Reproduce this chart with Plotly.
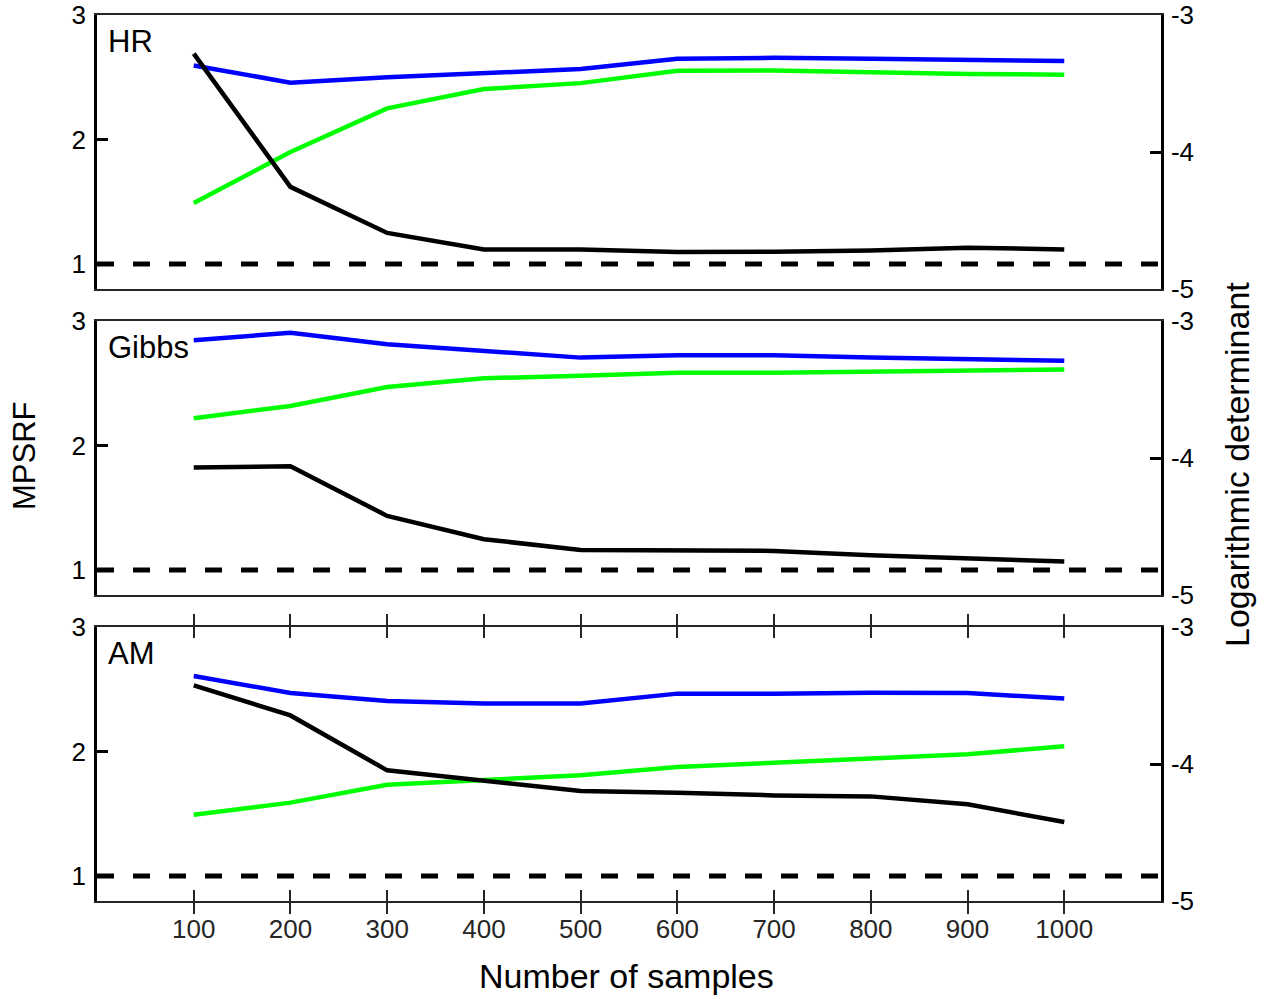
import plotly.graph_objects as go

samples = [100, 200, 300, 400, 500, 600, 700, 800, 900, 1000]
panel_names = ["HR", "Gibbs", "AM"]

blue_hr = [2.595, 2.457, 2.50, 2.534, 2.566, 2.648, 2.656, 2.648, 2.64, 2.63]
green_hr = [1.49, 1.90, 2.25, 2.405, 2.453, 2.553, 2.555, 2.54, 2.527, 2.52]
black_hr = [2.69, 1.62, 1.25, 1.118, 1.118, 1.097, 1.10, 1.11, 1.132, 1.118]

blue_gibbs = [2.845, 2.906, 2.813, 2.759, 2.706, 2.725, 2.725, 2.706, 2.69, 2.68]
green_gibbs = [2.22, 2.318, 2.47, 2.54, 2.56, 2.585, 2.585, 2.593, 2.604, 2.61]
black_gibbs = [1.823, 1.834, 1.435, 1.248, 1.162, 1.154, 1.154, 1.12, 1.095, 1.068]

blue_am = [2.607, 2.47, 2.406, 2.385, 2.385, 2.465, 2.465, 2.473, 2.47, 2.425]
green_am = [1.493, 1.59, 1.734, 1.769, 1.809, 1.876, 1.908, 1.937, 1.978, 2.042]
black_am = [2.532, 2.29, 1.849, 1.763, 1.683, 1.67, 1.648, 1.64, 1.576, 1.434]

reference_level = 1
left_ticks = [1, 2, 3]
right_ticks = [-5, -4, -3]
right_tick_labels = ["-5", "-4", "-3"]
x_ticks = [100, 200, 300, 400, 500, 600, 700, 800, 900, 1000]

panels = [
    (blue_hr, green_hr, black_hr),
    (blue_gibbs, green_gibbs, black_gibbs),
    (blue_am, green_am, black_am),
]

W, H = 1266, 999
ml, mr, mt, mb = 97, 105, 15, 98
plot_h = H - mt - mb
plot_w = W - ml - mr
spans = [(15, 289), (321, 595), (627, 901)]
domains = [[(H - mb - b) / plot_h, (H - mb - t) / plot_h] for t, b in spans]

fig = go.Figure()
FONT = "Liberation Sans, Arial, Helvetica, sans-serif"
LW = 4.5
TICKFONT = 26

layout = dict(
    width=W, height=H,
    margin=dict(l=ml, r=mr, t=mt, b=mb, autoexpand=False),
    paper_bgcolor="white", plot_bgcolor="white",
    showlegend=False,
    font=dict(family=FONT, size=24, color="black"),
)

shapes = []
annotations = []
for i, (blue, green, black) in enumerate(panels):
    n = i + 1
    xa = "x" if n == 1 else f"x{n}"
    ya = f"y{2*n-1}" if n > 1 else "y"
    yb = f"y{2*n}"
    xk = "xaxis" if n == 1 else f"xaxis{n}"
    yk = "yaxis" if n == 1 else f"yaxis{2*n-1}"
    yk2 = f"yaxis{2*n}"
    for vals, col in ((blue, "#0000ff"), (green, "#00ff00"), (black, "#000000")):
        fig.add_trace(go.Scatter(x=samples, y=vals, xaxis=xa, yaxis=ya, mode="lines",
                                 line=dict(color=col, width=LW), hoverinfo="skip"))
    fig.add_trace(go.Scatter(x=[], y=[], xaxis=xa, yaxis=yb, mode="lines", hoverinfo="skip"))
    last = (n == 3)
    layout[xk] = dict(
        domain=[0, 1], anchor=ya, range=[0, 1100],
        showline=True, linecolor="#262626", linewidth=2,
        mirror="allticks" if last else True,
        ticks="inside" if last else "", ticklen=11, tickwidth=2, tickcolor="#262626",
        tickvals=x_ticks if last else [], showticklabels=last,
        tickfont=dict(size=TICKFONT, color="#262626", family=FONT),
        showgrid=False, zeroline=False, fixedrange=True,
        ticklabelstandoff=4, automargin=False,
    )
    if n > 1:
        layout[xk]["matches"] = "x"
    layout[yk] = dict(
        domain=domains[i], anchor=xa, range=[0.8, 3],
        showline=True, linecolor="black", linewidth=2.5,
        ticks="inside", ticklen=11, tickwidth=2.5, tickcolor="black",
        tickvals=left_ticks, tickfont=dict(size=TICKFONT, color="black", family=FONT),
        showgrid=False, zeroline=False, fixedrange=True, ticklabelstandoff=3,
        automargin=False,
    )
    layout[yk2] = dict(
        overlaying=ya, side="right", anchor=xa, range=[-5, -3],
        showline=True, linecolor="black", linewidth=2.5,
        ticks="inside", ticklen=11, tickwidth=2.5, tickcolor="black",
        tickvals=right_ticks, ticktext=right_tick_labels,
        tickfont=dict(size=TICKFONT, color="black", family=FONT),
        showgrid=False, zeroline=False, fixedrange=True, ticklabelstandoff=2,
        automargin=False,
    )
    shapes.append(dict(type="line", xref=f"{xa} domain", yref=ya,
                       x0=0, x1=1, y0=reference_level, y1=reference_level,
                       line=dict(color="black", width=5, dash="17px,19px")))
    annotations.append(dict(text=panel_names[i], xref=f"{xa} domain", yref=f"{ya} domain",
                            x=0, y=1, xanchor="left", yanchor="middle",
                            xshift=9, yshift=-26, showarrow=False,
                            font=dict(size=31, color="black", family=FONT)))

annotations.append(dict(text="Number of samples", xref="paper", yref="paper",
                        x=(626 - ml) / plot_w, y=(H - mb - 976) / plot_h,
                        xanchor="center", yanchor="middle", showarrow=False,
                        font=dict(size=34, color="black", family=FONT)))
annotations.append(dict(text="MPSRF", xref="paper", yref="paper",
                        x=(24 - ml) / plot_w, y=(H - mb - 456) / plot_h, textangle=-90,
                        xanchor="center", yanchor="middle", showarrow=False,
                        font=dict(size=31, color="black", family=FONT)))
annotations.append(dict(text="Logarithmic determinant", xref="paper", yref="paper",
                        x=(1237 - ml) / plot_w, y=(H - mb - 465) / plot_h, textangle=-90,
                        xanchor="center", yanchor="middle", showarrow=False,
                        font=dict(size=34, color="black", family=FONT)))

layout["shapes"] = shapes
layout["annotations"] = annotations
fig.update_layout(**layout)
fig.write_html("out.html", config={"displayModeBar": False})
